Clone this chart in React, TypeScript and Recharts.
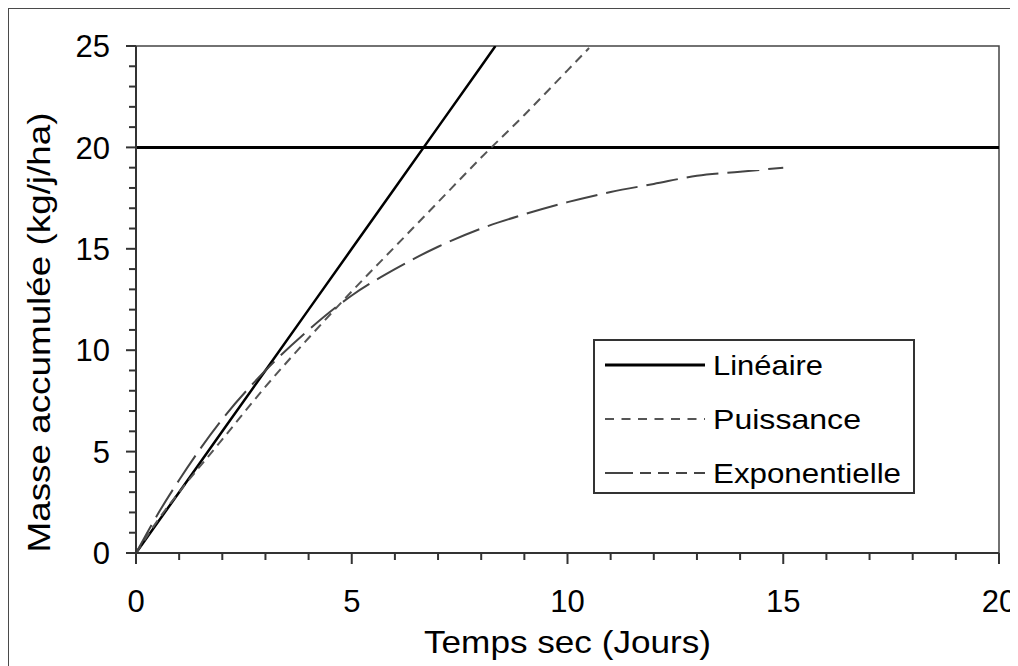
import React from 'react';
import { LineChart, Line, XAxis, YAxis, ReferenceLine, ReferenceArea, Legend, Label } from 'recharts';

const FONT = '"Liberation Sans", Arial, Helvetica, sans-serif';

// Data
const linDays = [0, 1, 2, 3, 4, 5, 6, 7, 8, 8.33];
const linMass = [0, 3, 6, 9, 12, 15, 18, 21, 24, 25];

const powDays = [0, 0.5, 1, 2, 3, 4, 5, 6, 7, 8, 9, 10, 10.5];
const powMass = [0, 1.6, 3.0, 5.6, 8.2, 10.6, 12.9, 15.1, 17.3, 19.5, 21.6, 23.8, 24.9];

const expDays = [0, 0.5, 1, 2, 3, 4, 5, 6, 7, 8, 9, 10, 11, 12, 13, 14, 15];
const expMass = [0, 1.9, 3.6, 6.6, 9.0, 11.0, 12.7, 14.0, 15.1, 16.0, 16.7, 17.3, 17.8, 18.2, 18.6, 18.8, 19.0];

const threshold = 20;

const xTicks = [0, 1, 2, 3, 4, 5, 6, 7, 8, 9, 10, 11, 12, 13, 14, 15, 16, 17, 18, 19, 20];
const xLabels = [0, 5, 10, 15, 20];
const yTicks = [0, 1, 2, 3, 4, 5, 6, 7, 8, 9, 10, 11, 12, 13, 14, 15, 16, 17, 18, 19, 20, 21, 22, 23, 24, 25];
const yLabels = [0, 5, 10, 15, 20, 25];

const seriesNames = ['Linéaire', 'Puissance', 'Exponentielle'];

const zip = (xs: number[], ys: number[]) => xs.map((x, i) => ({ x, y: ys[i] }));
const linData = zip(linDays, linMass);
const powData = zip(powDays, powMass);
const expData = zip(expDays, expMass);

const XTick = (props: any) => {
  const { x, y, payload } = props;
  const v = payload.value;
  const major = xLabels.includes(v);
  return (
    <g>
      <line x1={x} x2={x} y1={y} y2={y + (major ? 11 : 7)} stroke="#333" strokeWidth={2} />
      {major && (
        <text x={x} y={y + 59} textAnchor="middle" fontSize={31} fontFamily={FONT} fill="#000">
          {v}
        </text>
      )}
    </g>
  );
};

const YTick = (props: any) => {
  const { x, y, payload } = props;
  const v = payload.value;
  const major = yLabels.includes(v);
  return (
    <g>
      <line x1={x - (major ? 10 : 7)} x2={x} y1={y} y2={y} stroke="#333" strokeWidth={2} />
      {major && (
        <text x={x - 26} y={y} dy="0.36em" textAnchor="end" fontSize={31} fontFamily={FONT} fill="#000">
          {v}
        </text>
      )}
    </g>
  );
};

const YTitle = (props: any) => {
  const vb = props.viewBox || { x: 0, y: 38, width: 128, height: 507 };
  const cx = vb.x + 42;
  const cy = vb.y + vb.height / 2 + 33;
  return (
    <text
      transform={`translate(${cx},${cy}) rotate(-90)`}
      textAnchor="middle"
      fontSize={32}
      fontFamily={FONT}
      fill="#000"
      textLength={440}
      lengthAdjust="spacingAndGlyphs"
    >
      Masse accumulée (kg/j/ha)
    </text>
  );
};

const XTitle = (props: any) => {
  const vb = props.viewBox || { x: 128, y: 545, width: 863, height: 113 };
  return (
    <text
      x={vb.x + vb.width / 2}
      y={vb.y + 100}
      textAnchor="middle"
      fontSize={32}
      fontFamily={FONT}
      fill="#000"
      textLength={287}
      lengthAdjust="spacingAndGlyphs"
    >
      Temps sec (Jours)
    </text>
  );
};

const legendStyles: Record<string, any> = {
  'Linéaire': { dash: undefined, width: 3, color: '#000', textLen: 110 },
  'Puissance': { dash: '9 7.5', width: 2, color: '#555', textLen: 148 },
  'Exponentielle': { dash: '28 7 11 7 11 7 11 7', width: 2, color: '#444', textLen: 188 },
};

const renderLegend = (props: any) => {
  const payload = [...(props.payload || [])].sort(
    (a: any, b: any) => seriesNames.indexOf(a.value) - seriesNames.indexOf(b.value)
  );
  return (
    <svg width={322} height={155} style={{ display: 'block' }}>
      <rect x={1} y={1} width={320} height={153} fill="#fff" stroke="#333" strokeWidth={2} />
      {payload.map((entry: any, i: number) => {
        const st = legendStyles[entry.value] || legendStyles['Linéaire'];
        const ly = 26 + i * 54;
        return (
          <g key={entry.value}>
            <line x1={12} x2={112} y1={ly} y2={ly} stroke={st.color} strokeWidth={st.width} strokeDasharray={st.dash} />
            <text
              x={120}
              y={ly + 10}
              fontSize={28}
              fontFamily={FONT}
              fill="#000"
              textLength={st.textLen}
              lengthAdjust="spacingAndGlyphs"
            >
              {entry.value}
            </text>
          </g>
        );
      })}
    </svg>
  );
};

export default function App() {
  return (
    <div style={{ position: 'relative', width: 1010, height: 658, fontFamily: FONT, overflow: 'hidden' }}>
      <div
        style={{
          position: 'absolute',
          left: -1,
          top: -1,
          width: 1020,
          height: 670,
          borderTop: '2px solid #4a4a4a',
          borderLeft: '2px solid #4a4a4a',
          pointerEvents: 'none',
        }}
      />
      <LineChart width={1010} height={658} margin={{ top: 38, right: 19, bottom: 0, left: 0 }}>
        <ReferenceArea x1={0} x2={20} y1={0} y2={25} fill="none" stroke="#444" strokeWidth={1.5} ifOverflow="visible" />
        <XAxis
          dataKey="x"
          type="number"
          domain={[0, 20]}
          ticks={xTicks}
          interval={0}
          allowDataOverflow
          height={113}
          tickSize={0}
          tickMargin={0}
          tickLine={false}
          tick={<XTick />}
          axisLine={{ stroke: '#333', strokeWidth: 2 }}
        >
          <Label content={<XTitle />} />
        </XAxis>
        <YAxis
          type="number"
          domain={[0, 25]}
          ticks={yTicks}
          interval={0}
          allowDataOverflow
          width={128}
          tickSize={0}
          tickMargin={0}
          tickLine={false}
          tick={<YTick />}
          axisLine={{ stroke: '#333', strokeWidth: 2 }}
        >
          <Label content={<YTitle />} />
        </YAxis>
        <ReferenceLine y={threshold} stroke="#000" strokeWidth={3} />
        <Line
          data={linData}
          dataKey="y"
          name={seriesNames[0]}
          type="linear"
          stroke="#000"
          strokeWidth={2.5}
          dot={false}
          activeDot={false}
          isAnimationActive={false}
        />
        <Line
          data={powData}
          dataKey="y"
          name={seriesNames[1]}
          type="monotone"
          stroke="#555"
          strokeWidth={2}
          strokeDasharray="9 6"
          dot={false}
          activeDot={false}
          isAnimationActive={false}
        />
        <Line
          data={expData}
          dataKey="y"
          name={seriesNames[2]}
          type="monotone"
          stroke="#444"
          strokeWidth={2}
          strokeDasharray="32 9"
          dot={false}
          activeDot={false}
          isAnimationActive={false}
        />
        <Legend
          layout="vertical"
          align="center"
          verticalAlign="middle"
          content={renderLegend}
          wrapperStyle={{ position: 'absolute', left: 585, top: 331, width: 322, height: 155, margin: 0 }}
        />
      </LineChart>
    </div>
  );
}
